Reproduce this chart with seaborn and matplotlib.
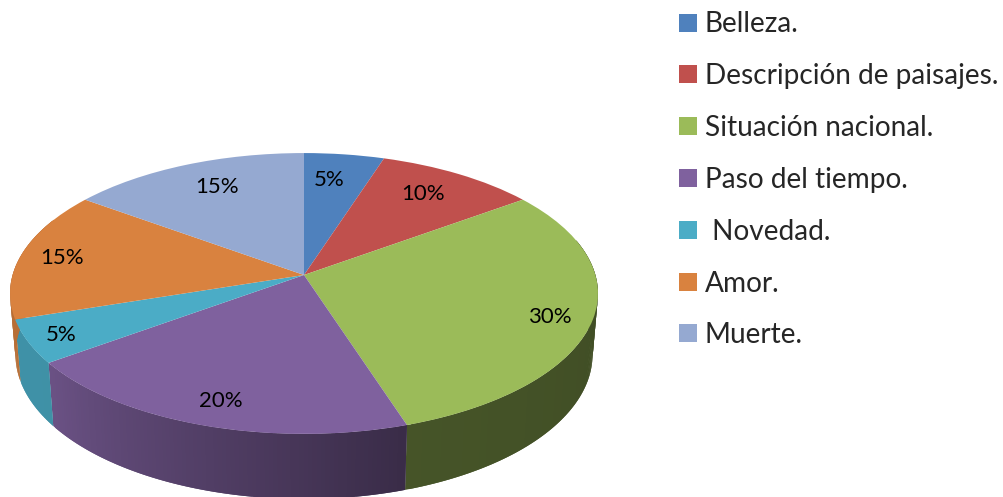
import numpy as np
import matplotlib
matplotlib.use("Agg")
import matplotlib.pyplot as plt
from matplotlib.transforms import Transform
import seaborn as sns

temas = ["Belleza.", "Descripción de paisajes.", "Situación nacional.",
         "Paso del tiempo.", " Novedad.", "Amor.", "Muerte."]
porcentajes = [5, 10, 30, 20, 5, 15, 15]
colores = ["#4f81bd", "#c0504d", "#9bbb59", "#7f619e", "#4bacc6", "#d9823f", "#95a9d1"]
# centro de cada etiqueta de porcentaje, en pixeles
pos_etiquetas = [(329, 180), (423, 194), (550, 317), (221, 401), (61, 335), (62, 258), (217, 187)]

sns.set_theme(style="white")
plt.rcParams["font.family"] = ["Lato", "DejaVu Sans"]


# perspectiva: pasa del circulo unidad a pixeles de la imagen
class Perspectiva(Transform):
    input_dims = 2
    output_dims = 2
    has_inverse = False

    def __init__(self, ax_x, ax_y, cy):
        super().__init__()
        self.ax_x = ax_x
        self.ax_y = ax_y
        self.cy = cy

    def transform_non_affine(self, values):
        values = np.asarray(values)
        w = 1 + 0.1317 * values[:, 1]
        return np.column_stack([304 + self.ax_x * values[:, 0] / w,
                                self.cy - self.ax_y * values[:, 1] / w])


cara_superior = Perspectiva(291.4, 138, 275)
cara_inferior = Perspectiva(286, 142, 335.5)

fig = plt.figure(figsize=(10.04, 4.97), dpi=100)
ax = fig.add_axes([0, 0, 1, 1])

wedges, _, autotexts = ax.pie(porcentajes, colors=sns.color_palette(colores), startangle=90,
                              counterclock=False, autopct="%.0f%%",
                              wedgeprops={"linewidth": 0}, textprops={"fontsize": 16, "color": "black"})
ax.set_aspect("auto")
ax.set_xlim(0, 1004)
ax.set_ylim(497, 0)
ax.axis("off")

for wedge, texto, xy in zip(wedges, autotexts, pos_etiquetas):
    wedge.set_transform(cara_superior + ax.transData)
    wedge.set_zorder(3)
    texto.set_position(xy)
    texto.set_zorder(4)

# lateral de la torta, en tiras finas para el degradado
# cada tira pisa a la anterior para que no queden rayas entre ellas
for wedge in wedges:
    ini = max(wedge.theta1, -205)
    fin = min(wedge.theta2, 15)
    if ini >= fin:
        continue
    bordes = np.radians(np.arange(ini, fin + 0.75, 0.75).clip(ini, fin))
    rim = np.column_stack([np.cos(bordes), np.sin(bordes)])
    arriba = cara_superior.transform_non_affine(rim)
    abajo = cara_inferior.transform_non_affine(rim)
    base = np.array(wedge.get_facecolor()[:3])
    for i in range(len(bordes) - 1, 0, -1):
        tono = np.interp(np.degrees(bordes[i]), [-180, -144, -72, 0], [0.85, 0.84, 0.45, 0.41])
        tira = np.vstack([arriba[i - 1:i + 2], abajo[i - 1:i + 2][::-1]])
        ax.fill(tira[:, 0], tira[:, 1], color=base * tono, linewidth=0, zorder=2)

ax.legend(wedges, temas, loc="upper left", bbox_to_anchor=(679.5 / 1004, 1 - 11.5 / 497),
          frameon=False, fontsize=20.2, handlelength=0.61, handleheight=0.61,
          handletextpad=0.29, labelspacing=0.92, borderpad=0, borderaxespad=0)

plt.savefig("out.png", dpi=100)
